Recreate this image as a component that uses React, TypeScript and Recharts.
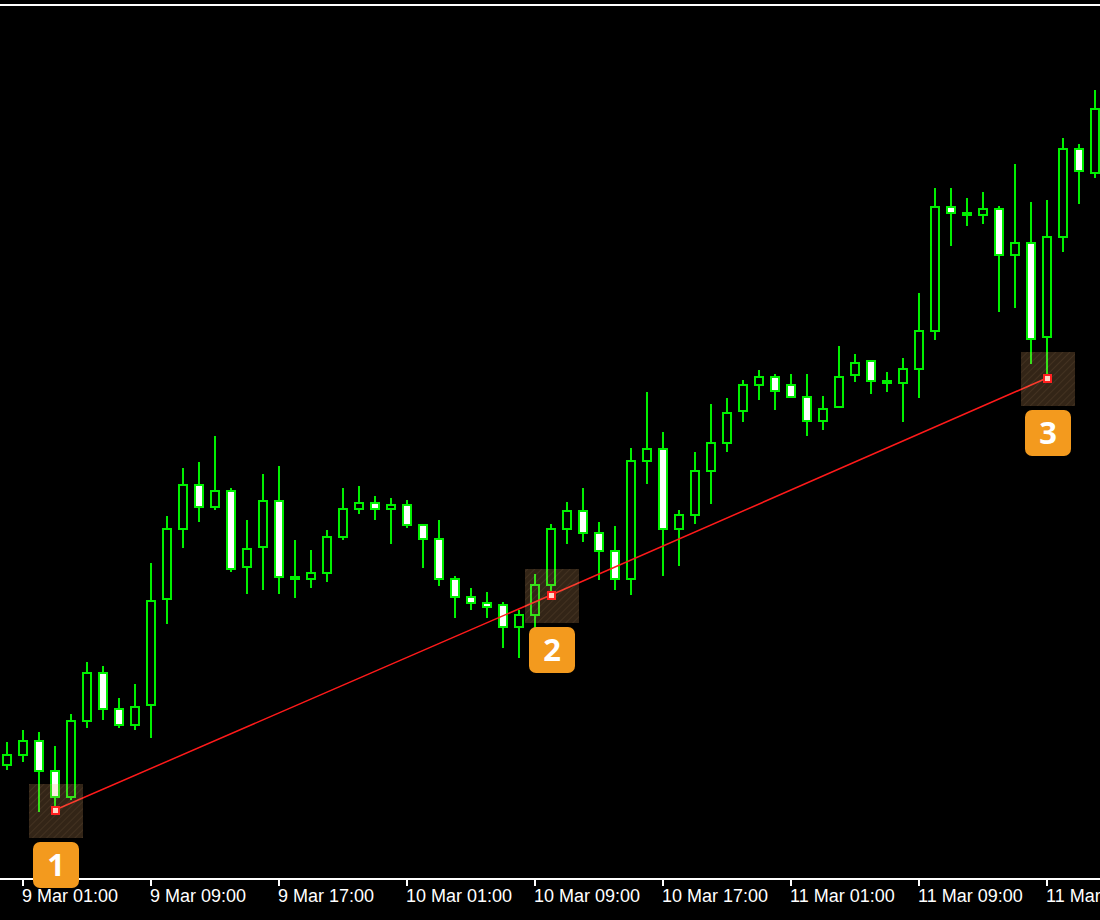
import { Bar, ComposedChart, Line, ReferenceLine, XAxis, YAxis } from 'recharts';

// H1 candles from 9 Mar 00:00, prices in points
const opens = [
  114, 124, 140, 110, 82, 158, 208, 172, 154, 174, 280, 350, 396, 372, 390, 312, 332, 380, 304, 300,
  306, 342, 370, 378, 370, 376, 356, 342, 302, 284, 278, 276, 252, 264, 294, 350, 370, 348, 330, 300,
  418, 432, 350, 364, 408, 436, 468, 494, 504, 496, 484, 458, 472, 504, 520, 496, 496, 510, 548, 674,
  668, 664, 672, 624, 638, 542, 642, 732, 706,
];
const highs = [
  138, 150, 148, 134, 166, 218, 214, 182, 196, 317, 364, 412, 418, 444, 392, 360, 406, 414, 340, 330,
  350, 392, 394, 384, 382, 380, 356, 360, 304, 292, 288, 278, 270, 306, 356, 378, 392, 358, 354, 432,
  488, 448, 370, 428, 476, 482, 500, 510, 506, 506, 506, 484, 534, 526, 520, 508, 522, 587, 692, 692,
  682, 688, 674, 716, 678, 680, 742, 736, 790,
];
const lows = [
  110, 118, 68, 70, 80, 152, 160, 152, 150, 142, 256, 332, 358, 370, 308, 286, 290, 286, 282, 292,
  298, 340, 366, 360, 336, 352, 312, 294, 262, 270, 262, 232, 222, 252, 285, 336, 338, 300, 290, 285,
  396, 304, 314, 356, 376, 428, 458, 480, 470, 482, 444, 450, 472, 498, 486, 488, 458, 482, 540, 634,
  654, 656, 568, 572, 516, 502, 628, 676, 702,
];
const closes = [
  126, 140, 108, 82, 160, 208, 170, 154, 174, 280, 352, 396, 372, 390, 310, 332, 380, 302, 300, 308,
  344, 372, 378, 370, 376, 354, 340, 300, 282, 276, 272, 252, 266, 296, 352, 370, 346, 328, 300, 420,
  432, 350, 366, 410, 438, 468, 496, 504, 488, 482, 458, 472, 504, 518, 498, 500, 512, 550, 674, 666,
  664, 672, 624, 638, 540, 644, 732, 708, 772,
];

const tickBars = [1, 9, 17, 25, 33, 41, 49, 57, 65];
const tickLabels = [
  '9 Mar 01:00', '9 Mar 09:00', '9 Mar 17:00', '10 Mar 01:00', '10 Mar 09:00',
  '10 Mar 17:00', '11 Mar 01:00', '11 Mar 09:00', '11 Mar 17:00',
];

// trendline drawn through three swing lows
const anchorBars = [3, 34, 65];
const anchorLabels = ['1', '2', '3'];

const GREEN = '#00f000';

const data = opens.map((open, i) => {
  const a = anchorBars.indexOf(i);
  return {
    i,
    open,
    high: highs[i],
    low: lows[i],
    close: closes[i],
    trend: a >= 0 ? lows[i] : null,
    mark: a >= 0 ? anchorLabels[a] : null,
  };
});

function Candle(props: any) {
  const { x, y, width, height, payload } = props;
  if (x == null || y == null || !payload) return <g />;
  const top = Math.min(y, y + height);
  const bottom = Math.max(y, y + height);
  const span = payload.high - payload.low || 1;
  const toY = (p: number) => top + ((payload.high - p) / span) * (bottom - top);
  const cx = Math.round(x + width / 2);
  const bodyTop = toY(Math.max(payload.open, payload.close));
  const bodyBottom = toY(Math.min(payload.open, payload.close));
  const up = payload.close >= payload.open;
  return (
    <g>
      <line x1={cx} x2={cx} y1={top} y2={bottom} stroke={GREEN} strokeWidth={2} />
      <rect
        x={cx - 4}
        y={bodyTop + 1}
        width={8}
        height={Math.max(bodyBottom - bodyTop - 2, 2)}
        fill={up ? '#000' : '#fff'}
        stroke={GREEN}
        strokeWidth={2}
      />
    </g>
  );
}

function Marker(props: any) {
  const { cx, cy, payload, index } = props;
  if (cx == null || cy == null || !payload || payload.trend == null) return <g key={`m${index}`} />;
  const pid = `hatch${index}`;
  return (
    <g key={`m${index}`}>
      <defs>
        <pattern id={pid} width={5} height={5} patternUnits="userSpaceOnUse" patternTransform="rotate(45)">
          <rect width={5} height={5} fill="rgba(232,168,104,0.22)" />
          <line x1={0} y1={0} x2={0} y2={5} stroke="rgba(255,200,150,0.08)" strokeWidth={2} />
        </pattern>
      </defs>
      <rect x={cx - 26} y={cy - 26} width={54} height={54} fill={`url(#${pid})`} />
      <rect x={cx - 3} y={cy - 3} width={7} height={7} fill="#ffd8c8" stroke="#ff2020" strokeWidth={2} />
      <rect x={cx - 22} y={cy + 32} width={46} height={46} rx={7} fill="#f39a1e" />
      <text
        x={cx + 1}
        y={cy + 66}
        textAnchor="middle"
        fill="#fff"
        fontSize={31}
        fontWeight={700}
        fontFamily="'Noto Sans', 'DejaVu Sans', sans-serif"
      >
        {payload.mark}
      </text>
    </g>
  );
}

function TimeTick(props: any) {
  const { x, y, payload } = props;
  const k = tickBars.indexOf(payload.value);
  return (
    <text
      x={x - 1}
      y={y}
      dy={14}
      textAnchor="start"
      fill="#fff"
      fontSize={18}
      fontFamily="'Liberation Sans Narrow', 'Liberation Sans', sans-serif"
    >
      {k >= 0 ? tickLabels[k] : ''}
    </text>
  );
}

export default function App() {
  return (
    <div style={{ position: 'absolute', left: 0, top: 0, width: 1100, height: 920, background: '#000' }}>
      <ComposedChart width={1100} height={920} data={data} margin={{ top: 5, right: 0, bottom: 0, left: 0 }}>
        <XAxis
          dataKey="i"
          type="number"
          domain={[-0.4375, 68.3125]}
          ticks={tickBars}
          interval={0}
          height={41}
          axisLine={{ stroke: '#fff', strokeWidth: 2 }}
          tickLine={{ stroke: '#fff', strokeWidth: 2 }}
          tickSize={7}
          tickMargin={2}
          tick={<TimeTick />}
        />
        <YAxis hide domain={[1, 875]} />
        <ReferenceLine y={875} stroke="#fff" strokeWidth={2} />
        <Bar
          dataKey={(d: any) => [d.low, d.high]}
          barSize={10}
          shape={(p: any) => <Candle {...p} />}
          isAnimationActive={false}
        />
        <Line
          dataKey="trend"
          connectNulls
          stroke="#ff1a1a"
          strokeWidth={1.5}
          dot={(p: any) => <Marker {...p} />}
          activeDot={false}
          isAnimationActive={false}
        />
      </ComposedChart>
    </div>
  );
}
